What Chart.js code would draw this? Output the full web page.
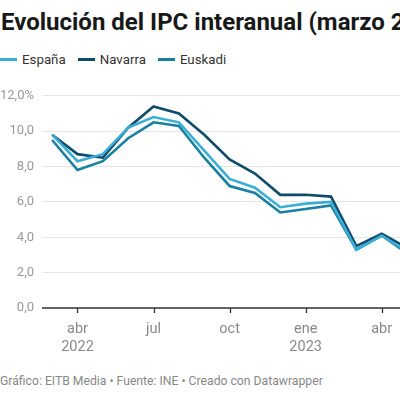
<!DOCTYPE html>
<html><head><meta charset="utf-8">
<script src="https://cdn.jsdelivr.net/npm/chart.js@4"></script>
<style>
html,body{margin:0;padding:0;width:400px;height:400px;overflow:hidden;background:#fff;font-family:Roboto,"Noto Sans",sans-serif;}
#title{position:absolute;left:1px;top:8px;white-space:nowrap;font-weight:700;font-size:24px;color:#181818;}
#legend{position:absolute;left:0;top:52px;white-space:nowrap;font-size:13.3px;color:#333;}
#legend span.it{display:inline-block;margin-right:12px;}
#legend i{display:inline-block;width:17px;height:2.5px;vertical-align:middle;margin-right:5px;position:relative;top:-1px;}
#footer{position:absolute;left:0;top:374px;white-space:nowrap;font-size:12.2px;color:#888;}
#wrap{position:absolute;left:0;top:80px;width:440px;height:280px;}
</style></head>
<body>
<div id="title">Evolución del IPC interanual (marzo 2022 - mayo 2023)</div>
<div id="legend"></div>
<div id="wrap"><canvas id="c"></canvas></div>
<div id="footer">Gráfico: EITB Media • Fuente: INE • Creado con Datawrapper</div>
<script>
// months from March 2022 to May 2023
const months = ["mar 2022","abr 2022","may 2022","jun 2022","jul 2022","ago 2022","sep 2022","oct 2022","nov 2022","dic 2022","ene 2023","feb 2023","mar 2023","abr 2023","may 2023"];
const espana  = [9.8, 8.3, 8.7, 10.2, 10.8, 10.5, 8.9, 7.3, 6.8, 5.7, 5.9, 6.0, 3.3, 4.1, 3.2];
const navarra = [9.8, 8.7, 8.5, 10.2, 11.4, 11.0, 9.8, 8.4, 7.6, 6.4, 6.4, 6.3, 3.5, 4.2, 3.4];
const euskadi = [9.5, 7.8, 8.3, 9.6, 10.5, 10.3, 8.5, 6.9, 6.5, 5.4, 5.6, 5.8, 3.3, 4.1, 3.1];
const xTickPos = [1, 4, 7, 10, 13];
const xTickLabels = [["abr","2022"],"jul","oct",["ene","2023"],"abr"];
const yTicks = [0, 2, 4, 6, 8, 10, 12];

const colors = {"España":"#3aaed6","Navarra":"#0f4c6b","Euskadi":"#1880a0"};
const series = [["España",espana],["Navarra",navarra],["Euskadi",euskadi]];

const lg = document.getElementById('legend');
series.forEach(([n])=>{
  const s=document.createElement('span');s.className='it';
  s.innerHTML='<i style="background:'+colors[n]+'"></i>'+n;
  lg.appendChild(s);
});

const ds = series.map(([n,v])=>({
  label:n,
  data:v.map((y,i)=>({x:i,y:y})),
  borderColor:colors[n],
  borderWidth:2.6,
  pointRadius:0,
  tension:0,
  fill:false
}));
const zeroLine = {
  id:'zeroLine',
  afterDatasetsDraw(chart){
    const {ctx,chartArea,scales:{x,y}}=chart;
    const y0=y.getPixelForValue(0);
    ctx.save();
    ctx.strokeStyle='#333';ctx.lineWidth=1.3;
    ctx.beginPath();ctx.moveTo(chartArea.left,y0);ctx.lineTo(chartArea.right,y0);ctx.stroke();
    xTickPos.forEach(p=>{
      const px=Math.round(x.getPixelForValue(p))+0.5;
      ctx.beginPath();ctx.moveTo(px,y0);ctx.lineTo(px,y0+5);ctx.stroke();
    });
    ctx.restore();
  }
};

new Chart(document.getElementById('c'),{
  type:'line',
  data:{datasets:ds},
  options:{
    responsive:true,maintainAspectRatio:false,animation:false,
    layout:{padding:{top:10,right:0,bottom:0,left:0}},
    plugins:{legend:{display:false},tooltip:{enabled:false}},
    scales:{
      x:{type:'linear',min:-0.4,max:15.3,
        afterBuildTicks(s){s.ticks=xTickPos.map(v=>({value:v}));},
        afterFit(s){s.height=52;},
        grid:{display:false,drawTicks:false},
        border:{display:false},
        ticks:{autoSkip:false,maxRotation:0,padding:13,color:'#888',font:{family:'Roboto',size:14.5},
          callback(v){const i=xTickPos.indexOf(v);return i>=0?xTickLabels[i]:'';}}
      },
      y:{type:'linear',min:0,max:12,
        afterBuildTicks(s){s.ticks=yTicks.map(v=>({value:v}));},
        afterFit(s){s.width=42;},
        grid:{color:'#e6e6e6',drawTicks:false,lineWidth:1},
        border:{display:false},
        ticks:{padding:8,color:'#999',font:{family:'Roboto',size:13},
          callback(v){const t=v.toFixed(1).replace('.',',');return v===12?t+'%':t;}}
      }
    }
  },
  plugins:[zeroLine]
});
</script>
</body></html>
